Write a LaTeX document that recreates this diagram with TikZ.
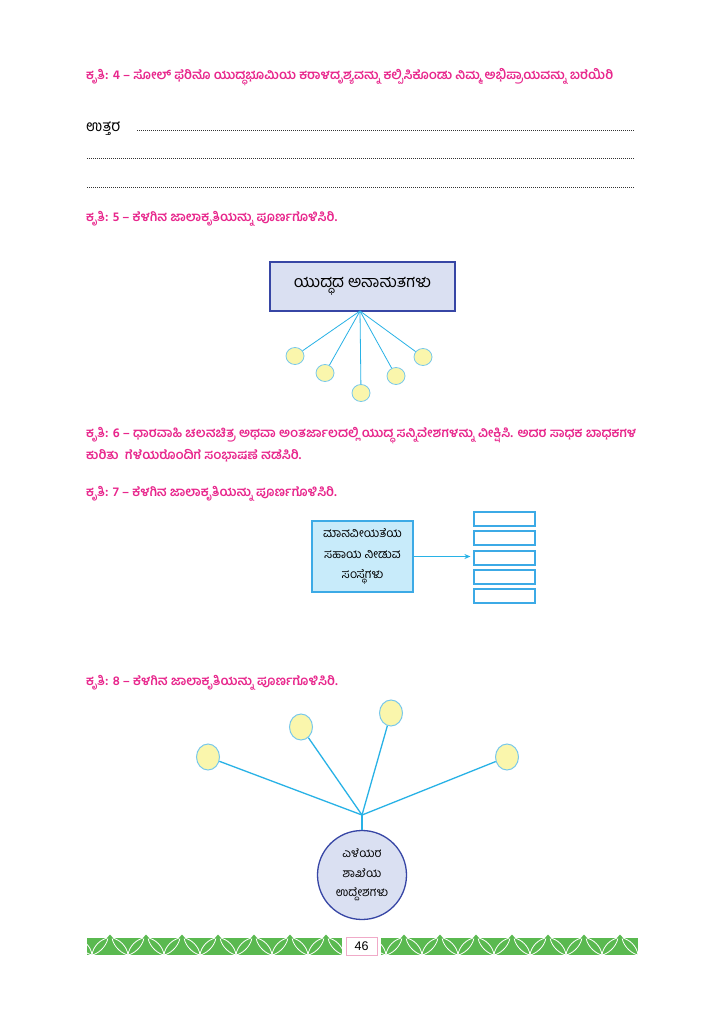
\documentclass[tikz,border=0pt]{standalone}
\usepackage{fontspec}
\setmainfont{Liberation Sans}
\newfontfamily\kn[Script=Kannada]{Hind Mysuru}
\usetikzlibrary{shapes.geometric,arrows.meta}
\definecolor{pinkT}{RGB}{232,38,140}
\definecolor{navy}{RGB}{55,70,165}
\definecolor{lav}{RGB}{218,224,242}
\definecolor{cyanL}{RGB}{40,178,230}
\definecolor{yel}{RGB}{250,246,172}
\definecolor{cirb}{RGB}{120,200,235}
\definecolor{boxc}{RGB}{200,235,250}
\definecolor{boxb}{RGB}{60,170,230}
\definecolor{leaf}{RGB}{90,185,80}
\definecolor{pinkB}{RGB}{240,170,200}
\begin{document}
\begin{tikzpicture}[x=1pt,y=-1pt,
  title/.style={anchor=west,inner sep=0,text=pinkT,font=\kn\bfseries\fontsize{12.9}{15}\selectfont},
  plain/.style={anchor=west,inner sep=0,font=\kn\fontsize{15.5}{17}\selectfont},
  dots/.style={black!80,line width=1pt,dash pattern=on 1pt off 1pt},
  boxA/.style={draw=navy,fill=lav,line width=1.4pt,inner sep=0,font=\kn\fontsize{16.3}{18}\selectfont},
  bud/.style={ellipse,draw=cirb,fill=yel,line width=0.8pt,inner sep=0},
  thinl/.style={cyanL,line width=0.8pt},
  boxB/.style={draw=boxb,fill=boxc,line width=1.2pt,inner sep=0,align=center,font=\kn\fontsize{12.2}{20.5}\selectfont},
  slot/.style={draw=boxb,fill=white,line width=1.2pt,minimum width=61,minimum height=14,inner sep=0},
  thickl/.style={cyanL,line width=1.3pt},
  bigc/.style={circle,draw=navy,fill=lav,line width=1.3pt,minimum size=89,inner sep=0,align=center,font=\kn\fontsize{12}{19.5}\selectfont},
  leafl/.style={white,line width=0.8pt}
]
\useasboundingbox (0,0) rectangle (724,1024);
\fill[white] (0,0) rectangle (724,1024);

% Krithi 4
\node[title] (t4) at (86,77) {ಕೃತಿ: 4 – ಸೋಲ್ ಫೆರಿನೊ ಯುದ್ಧಭೂಮಿಯ ಕರಾಳದೃಶ್ಯವನ್ನು ಕಲ್ಪಿಸಿಕೊಂಡು ನಿಮ್ಮ ಅಭಿಪ್ರಾಯವನ್ನು ಬರೆಯಿರಿ};
\node[plain] (ans) at (86,129) {ಉತ್ತರ};
\draw[dots] (137,131) -- (635,131);
\draw[dots] (87,159) -- (635,159);
\draw[dots] (87,188) -- (635,188);

% Krithi 5
\node[title] (t5) at (86,219) {ಕೃತಿ: 5 – ಕೆಳಗಿನ ಜಾಲಾಕೃತಿಯನ್ನು ಪೂರ್ಣಗೊಳಿಸಿರಿ.};
\node[boxA,minimum width=185,minimum height=49] (b1) at (362.5,286.5) {ಯುದ್ಧದ ಅನಾಹುತಗಳು};
\coordinate (a1) at (360,311);
\node[bud,minimum width=18,minimum height=17] (e1) at (295,356) {};
\node[bud,minimum width=18,minimum height=17] (e2) at (325,373) {};
\node[bud,minimum width=18,minimum height=17] (e3) at (361,393) {};
\node[bud,minimum width=18,minimum height=17] (e4) at (396,376) {};
\node[bud,minimum width=18,minimum height=17] (e5) at (423,357) {};
\foreach \e in {e1,e2,e3,e4,e5} \draw[thinl] (a1) -- (\e);

% Krithi 6, 7
\node[title] (t6a) at (86,436) {ಕೃತಿ: 6 – ಧಾರವಾಹಿ ಚಲನಚಿತ್ರ ಅಥವಾ ಅಂತರ್ಜಾಲದಲ್ಲಿ ಯುದ್ಧ ಸನ್ನಿವೇಶಗಳನ್ನು ವೀಕ್ಷಿಸಿ. ಅದರ ಸಾಧಕ ಬಾಧಕಗಳ};
\node[title] (t6b) at (86,456) {ಕುರಿತು\ \ ಗೆಳೆಯರೊಂದಿಗೆ ಸಂಭಾಷಣೆ ನಡೆಸಿರಿ.};
\node[title] (t7) at (86,494) {ಕೃತಿ: 7 – ಕೆಳಗಿನ ಜಾಲಾಕೃತಿಯನ್ನು ಪೂರ್ಣಗೊಳಿಸಿರಿ.};
\node[boxB,minimum width=101,minimum height=71] (b2) at (362.5,556.5) {ಮಾನವೀಯತೆಯ\\ಸಹಾಯ ನೀಡುವ\\ಸಂಸ್ಥೆಗಳು};
\node[slot] (r1) at (504.5,519) {};
\node[slot] (r2) at (504.5,538) {};
\node[slot] (r3) at (504.5,558) {};
\node[slot] (r4) at (504.5,577) {};
\node[slot] (r5) at (504.5,596) {};
\draw[thinl,-{Stealth[length=6pt,width=5pt]},shorten >=3pt] (b2.east) -- (b2.east -| r3.west);

% Krithi 8
\node[title] (t8) at (86,683) {ಕೃತಿ: 8 – ಕೆಳಗಿನ ಜಾಲಾಕೃತಿಯನ್ನು ಪೂರ್ಣಗೊಳಿಸಿರಿ.};
\coordinate (j) at (362,815);
\node[bud,minimum width=23,minimum height=26,line width=1pt] (c1) at (208,757) {};
\node[bud,minimum width=23,minimum height=26,line width=1pt] (c2) at (301,727) {};
\node[bud,minimum width=23,minimum height=26,line width=1pt] (c3) at (391,713) {};
\node[bud,minimum width=23,minimum height=26,line width=1pt] (c4) at (507,757) {};
\node[bigc] (C) at (362,875) {ಎಳೆಯರ\\ಶಾಖೆಯ\\ಉದ್ದೇಶಗಳು};
\foreach \c in {c1,c2,c3,c4} \draw[thickl] (\c) -- (j);
\draw[thickl] (j) -- (C);

% footer
\begin{scope}
  \clip (87,938) rectangle (342,955);
  \fill[leaf] (87,938) rectangle (342,955);
  \foreach \c in {92,128,...,344} {
    \draw[leafl] (\c,955) .. controls ({\c-1},946) and ({\c-9},939) .. ({\c-16},938);
    \draw[leafl] (\c,955) .. controls ({\c+1},946) and ({\c+9},939) .. ({\c+16},938);
    \draw[leafl] (\c,955) .. controls ({\c-5},954) and ({\c-14},948) .. ({\c-16},938);
    \draw[leafl] (\c,955) .. controls ({\c+5},954) and ({\c+14},948) .. ({\c+16},938);
  }
\end{scope}
\foreach \d in {110,146,...,326} \fill[leaf] (\d,934.5) -- ({\d+3.5},938.5) -- ({\d-3.5},938.5) -- cycle;
\begin{scope}
  \clip (381,938) rectangle (638,955);
  \fill[leaf] (381,938) rectangle (638,955);
  \foreach \c in {386,422,...,640} {
    \draw[leafl] (\c,955) .. controls ({\c-1},946) and ({\c-9},939) .. ({\c-16},938);
    \draw[leafl] (\c,955) .. controls ({\c+1},946) and ({\c+9},939) .. ({\c+16},938);
    \draw[leafl] (\c,955) .. controls ({\c-5},954) and ({\c-14},948) .. ({\c-16},938);
    \draw[leafl] (\c,955) .. controls ({\c+5},954) and ({\c+14},948) .. ({\c+16},938);
  }
\end{scope}
\foreach \d in {404,440,...,620} \fill[leaf] (\d,934.5) -- ({\d+3.5},938.5) -- ({\d-3.5},938.5) -- cycle;
\node[draw=pinkB,line width=1pt,minimum width=31,minimum height=18,inner sep=0,font=\fontsize{12.5}{14}\selectfont] (pg) at (361.5,946) {46};
\end{tikzpicture}
\end{document}
